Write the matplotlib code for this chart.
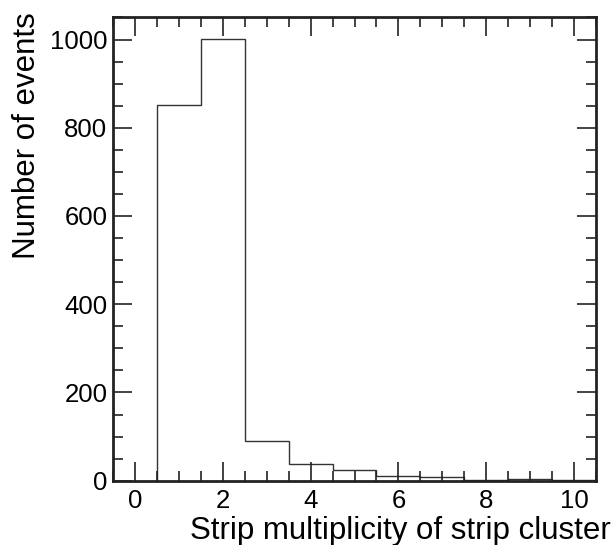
import matplotlib
matplotlib.use("Agg")
import matplotlib.pyplot as plt
from matplotlib.ticker import MultipleLocator
import numpy as np

bin_edges = [0.5, 1.5, 2.5, 3.5, 4.5, 5.5, 6.5, 7.5, 8.5, 9.5, 10.5]
counts = [851, 1001, 89, 37, 25, 10, 9, 2, 4, 1]
xlabel = "Strip multiplicity of strip cluster"
ylabel = "Number of events"

plt.rcParams['font.family'] = ['Liberation Sans', 'DejaVu Sans']

fig = plt.figure(figsize=(6.16, 5.45), dpi=100)
ax = fig.add_axes([113/616, 1-480.7/545, (596-113)/616, (480.7-17)/545])

ax.stairs(counts, bin_edges, color='#333333', linewidth=1.0)

ax.set_xlim(-0.5, 10.5)
ax.set_ylim(0, 1051)
ax.xaxis.set_major_locator(MultipleLocator(2))
ax.xaxis.set_minor_locator(MultipleLocator(0.5))
ax.yaxis.set_major_locator(MultipleLocator(200))
ax.yaxis.set_minor_locator(MultipleLocator(50))
ax.tick_params(which='both', direction='in', top=True, right=True, width=1.2, color='#222222')
ax.tick_params(which='major', length=14, labelsize=18.5)
ax.tick_params(axis='y', which='major', pad=4)
ax.tick_params(axis='x', which='major', pad=6)
ax.tick_params(which='minor', length=7)
for s in ax.spines.values():
    s.set_linewidth(2)
    s.set_color('#222222')

fig.text(611/616, 1-539/545, xlabel, ha='right', va='baseline', fontsize=22.5)
fig.text(27/616, 1-12/545, ylabel, ha='center', va='top', rotation=90, fontsize=22.5)

fig.savefig("out.png", dpi=100)
